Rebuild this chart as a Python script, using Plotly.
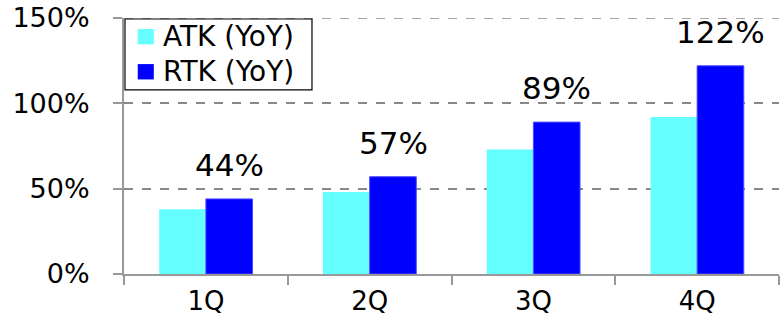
import plotly.graph_objects as go

categories = ["1Q", "2Q", "3Q", "4Q"]
atk_values = [38, 48, 73, 92]
rtk_values = [44, 57, 89, 122]
rtk_labels = ["44%", "57%", "89%", "122%"]
series_names = ["ATK (YoY)", "RTK (YoY)"]
y_ticks = [0, 50, 100, 150]
y_tick_labels = ["0%", "50%", "100%", "150%"]

FONT = "DejaVu Sans"
COLORS = ["#66FFFF", "#0000FF"]

fig = go.Figure()
fig.add_trace(go.Bar(x=categories, y=atk_values, name=series_names[0],
                     marker=dict(color=COLORS[0], line=dict(width=0))))
fig.add_trace(go.Bar(x=categories, y=rtk_values, name=series_names[1],
                     marker=dict(color=COLORS[1], line=dict(width=1, color="#4D4DFF"))))

for c, v, t in zip(categories, rtk_values, rtk_labels):
    fig.add_annotation(x=c, y=v, text=t, showarrow=False, xref="x", yref="y",
                       xanchor="center", yanchor="bottom", xshift=23.5, yshift=14,
                       font=dict(family=FONT, size=31, color="black"))

# top gridline (at the range edge)
fig.add_shape(type="line", xref="paper", yref="y", x0=0, x1=1,
              y0=y_ticks[-1], y1=y_ticks[-1],
              line=dict(color="#888888", width=1.5, dash="dash"), layer="below")

# custom legend box (tighter line spacing than plotly's native legend)
fig.add_shape(type="rect", xref="paper", yref="paper", x0=0.0015, x1=0.287,
              y0=0.719, y1=0.996, line=dict(color="black", width=1.2),
              fillcolor="white", layer="above")
for i, (name, col) in enumerate(zip(series_names, COLORS)):
    yc = 0.927 - i * 0.137
    fig.add_shape(type="rect", xref="paper", yref="paper", x0=0.021, x1=0.0455,
                  y0=yc - 0.03, y1=yc + 0.03, line=dict(width=0),
                  fillcolor=col, layer="above")
    fig.add_annotation(x=0.057, y=yc, xref="paper", yref="paper", text=name,
                       showarrow=False, xanchor="left", yanchor="middle",
                       font=dict(family=FONT, size=28, color="black"))

fig.update_layout(
    width=784, height=321,
    margin=dict(l=124, r=5, t=18, b=47, autoexpand=False),
    paper_bgcolor="white", plot_bgcolor="white",
    barmode="group", bargap=0.43, bargroupgap=0,
    font=dict(family=FONT, size=27, color="black"),
    showlegend=False,
    xaxis=dict(type="category", showline=True, linecolor="#999999", linewidth=2,
               ticks="outside", tickson="boundaries", ticklen=9, tickcolor="#999999",
               tickwidth=2, showgrid=False, tickfont=dict(size=26),
               ticklabelstandoff=3, automargin=False),
    yaxis=dict(range=[0, 150], tickvals=y_ticks, ticktext=y_tick_labels,
               showline=True, linecolor="#999999", linewidth=2,
               ticks="outside", ticklen=9, tickcolor="#999999", tickwidth=2,
               showgrid=True, gridcolor="#888888", griddash="dash", gridwidth=1.5,
               zeroline=False, tickfont=dict(size=27), ticklabelstandoff=18,
               automargin=False),
)

fig.write_html("out.html")
